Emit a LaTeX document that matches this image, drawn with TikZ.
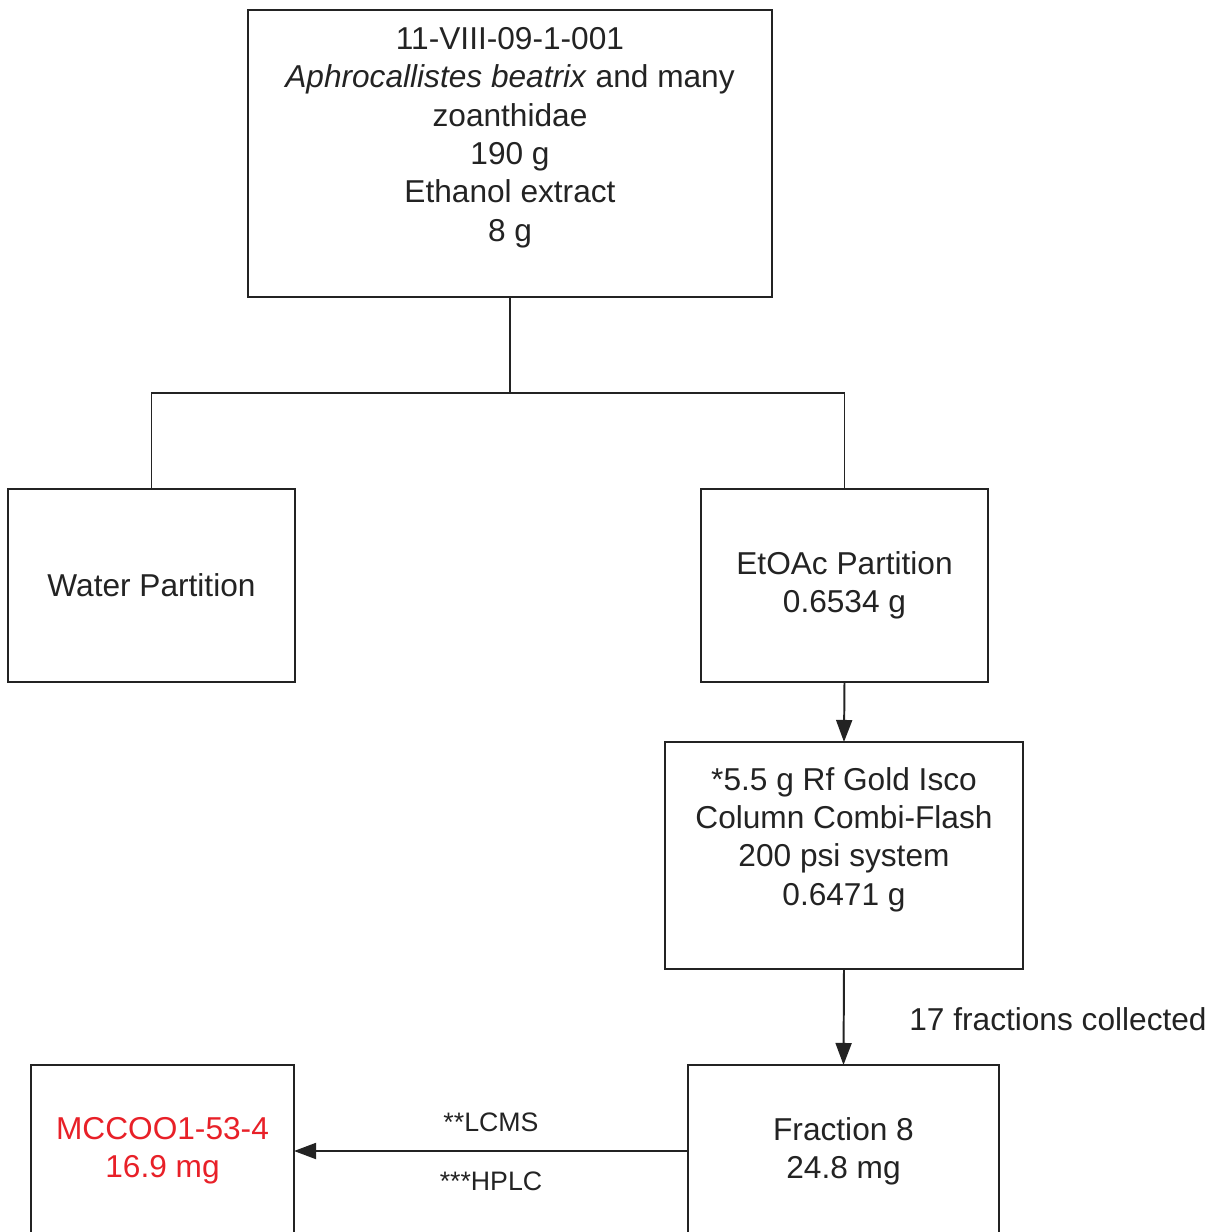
\documentclass[tikz,border=0pt]{standalone}
\usepackage{fontspec}
\setmainfont{Liberation Sans}
\usetikzlibrary{positioning,arrows.meta}
\tikzset{>={Triangle[width=0.4cm,length=0.55cm]}}
\definecolor{mccred}{RGB}{232,32,40}
\definecolor{linegray}{RGB}{35,35,35}

\begin{document}
\begin{tikzpicture}[
x=0.025cm, y=-0.025cm,
box/.style = {draw=linegray, line width=1.4pt,
              align=center,
              inner sep=0pt, outer sep=0pt,
              text=linegray,
              font=\fontsize{22.5}{27.3}\selectfont},
small/.style = {inner sep=0pt, text=linegray,
                font=\fontsize{19}{23}\selectfont},
link/.style = {draw=linegray, line width=1.4pt},
]
\useasboundingbox (0,0) rectangle (1212,1232);
\clip (0,0) rectangle (1212,1232);
        \node (sample) [box, minimum width=13.1cm,
                        minimum height=7.175cm] at (510,153.5)
                       {11-VIII-09-1-001\\
                        \textit{Aphrocallistes beatrix} and many\\
                        zoanthidae\\ 190 g\\ Ethanol extract\\ 8 g\\ ~};
        \coordinate (split) at (510,393);
        % partitions
        \node (water) [box, minimum width=7.175cm,
                       minimum height=4.825cm] at (151.5,585.5)
                      {Water Partition};
        \node (etoac) [box, minimum width=7.175cm,
                       minimum height=4.825cm] at (844.5,585.5)
                      {EtOAc Partition\\ 0.6534 g};
        \draw[link] (sample.south) -- (split);
        \draw[link] (water.north) |- (split) -| (etoac.north);
        % column
        \node (combi) [box, minimum width=8.95cm,
                       minimum height=5.675cm] at (844,855.5)
                      {*5.5 g Rf Gold Isco\\ Column Combi-Flash\\
                       200 psi system\\ 0.6471 g\\ ~};
        \draw[link,->] (etoac.south) -- (combi.north);
        % fractions
        \node (fraction) [box, minimum width=7.775cm,
                          minimum height=4.3cm] at (843.5,1151)
                         {Fraction 8\\ 24.8 mg};
        \node (collected) [box, draw=none] at (1058,1019)
                          {17 fractions collected};
        \draw[link,->] (combi.south) -- (fraction.north);
        \node (mcc) [box, minimum width=6.575cm,
                     minimum height=4.3cm, text=mccred] at (162.5,1151)
                    {MCCOO1-53-4\\ 16.9 mg};
        \draw[link,->] (fraction.west) --
              node (lcms) [small, above=0.45cm] {**LCMS}
              node (hplc) [small, below=0.5cm] {***HPLC} (mcc.east);
\end{tikzpicture}
\end{document}
